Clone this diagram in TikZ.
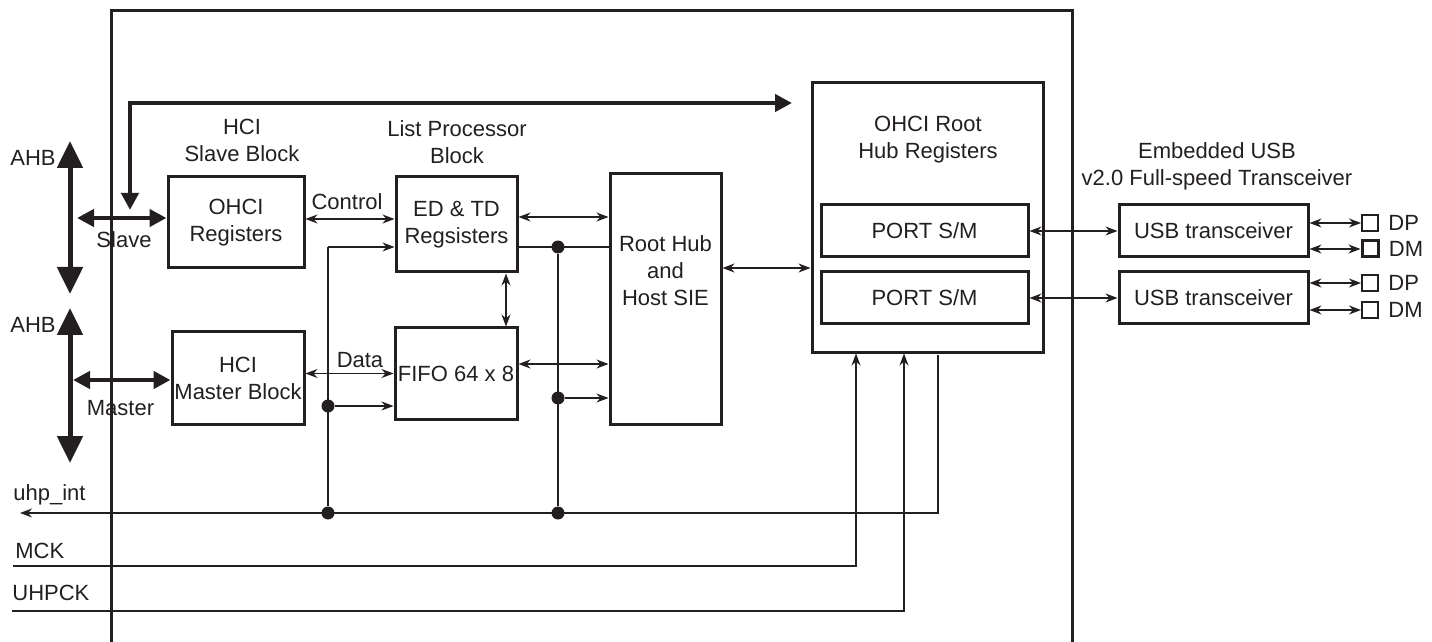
\documentclass[tikz,border=0pt]{standalone}
\usepackage{fontspec}
\setmainfont{Liberation Sans}
\usetikzlibrary{arrows.meta}

\definecolor{ink}{HTML}{231F20}

\begin{document}
\begin{tikzpicture}[
	x=0.5pt, y=-0.5pt,
	font=\fontsize{11pt}{13.5pt}\selectfont,
	every node/.style = {text=ink},
	b/.style = {rectangle, draw=ink, line width=1.5pt, align=center, inner sep=0pt},
	p/.style = {rectangle, draw=ink, line width=1pt, minimum size=8pt, inner sep=0pt},
	l/.style = {align=center, inner sep=0pt},
	d/.style = {circle, fill=ink, minimum size=6.5pt, inner sep=0pt},
	w/.style = {draw=ink, line width=0.7pt},
	r/.style = {w, {Stealth[length=6pt,width=4.5pt]}-{Stealth[length=6pt,width=4.5pt]}},
	s/.style = {w, -{Stealth[length=6pt,width=4.5pt]}},
	bus/.style = {draw=ink, line width=2.5pt, {Triangle[length=13.5pt,width=12.5pt]}-{Triangle[length=13.5pt,width=12.5pt]}},
	lnk/.style = {draw=ink, line width=2.2pt, {Triangle[length=8.5pt,width=8.5pt]}-{Triangle[length=8.5pt,width=8.5pt]}}
	]
	
	\useasboundingbox (0, 0) rectangle (1432, 642);
	
	% ===== ===== ===== ===== =====
	
	% Frame
	\draw[draw=ink, line width=1.5pt] (111, 642) -- (111, 11) -- (1072, 11) -- (1072, 642);
	
	% Nodes
	\node[b, minimum width=68pt, minimum height=45.5pt]	(ohci)	at	(236, 222.5)	{OHCI\\Registers};
	\node[b, minimum width=66pt, minimum height=46pt]	(hcim)	at	(238, 378)	{HCI\\Master Block};
	\node[b, minimum width=60.5pt, minimum height=47.5pt]	(edtd)	at	(456.5, 224.5)	{ED \& TD\\Regsisters};
	\node[b, minimum width=61pt, minimum height=45.5pt]	(fifo)	at	(456, 373.5)	{FIFO 64 x 8};
	\node[b, minimum width=55.5pt, minimum height=125pt]	(rh)	at	(665.5, 299)	{};
	\node[l]	(rhtxt)	at	(665.5, 271)	{Root Hub\\and\\Host SIE};
	
	\node[b, minimum width=115.5pt, minimum height=134.5pt]	(hub)	at	(927.5, 217.5)	{};
	\node[l]	(hubtxt)	at	(928, 140)	{OHCI Root\\Hub Registers};
	\node[b, minimum width=103.5pt, minimum height=26pt]	(port1)	at	(924.5, 231)	{PORT S/M};
	\node[b, minimum width=103.5pt, minimum height=26pt]	(port2)	at	(924.5, 298)	{PORT S/M};
	
	\node[b, minimum width=94.5pt, minimum height=26pt]	(usb1)	at	(1213.5, 231)	{USB transceiver};
	\node[b, minimum width=94.5pt, minimum height=26pt]	(usb2)	at	(1213.5, 298)	{USB transceiver};
	\node[p, label={[l, label distance=4.5pt]right:DP}]	(dp1)	at	(1370, 223)	{};
	\node[p, line width=1.5pt, label={[l, label distance=4.5pt]right:DM}]	(dm1)	at	(1370, 249)	{};
	\node[p, label={[l, label distance=4.5pt]right:DP}]	(dp2)	at	(1370, 283)	{};
	\node[p, label={[l, label distance=4.5pt]right:DM}]	(dm2)	at	(1370, 310)	{};
	
	% Labels
	\node[l]	(slvhd)	at	(242, 140)	{HCI\\Slave Block};
	\node[l]	(lphd)	at	(457, 142)	{List Processor\\Block};
	\node[l]	(usbhd)	at	(1217, 166)	{Embedded USB\\v2.0 Full-speed Transceiver};
	\node[l]	(ahb1)	at	(33, 158)	{AHB};
	\node[l]	(ahb2)	at	(33, 325)	{AHB};
	\node[l]	(slv)	at	(124, 240)	{Slave};
	\node[l]	(mst)	at	(120.5, 408)	{Master};
	\node[l]	(ctl)	at	(347, 202)	{Control};
	\node[l]	(dat)	at	(360, 360)	{Data};
	\node[l, anchor=west]	(int)	at	(13, 495)	{uhp\_int};
	\node[l, anchor=west]	(mck)	at	(15, 551)	{MCK};
	\node[l, anchor=west]	(uck)	at	(12, 593)	{UHPCK};
	
	% Points
	\coordinate	(a1t)	at	(70, 141);
	\coordinate	(a1b)	at	(70, 294);
	\coordinate	(a2t)	at	(70, 308);
	\coordinate	(a2b)	at	(70, 463);
	\coordinate	(slvL)	at	(77, 218);
	\coordinate	(mstL)	at	(73, 380);
	\coordinate	(tap)	at	(130, 210);
	\coordinate	(busR)	at	(792, 103);
	\coordinate	(c1)	at	(328, 247);
	\coordinate	(i1)	at	(938, 355);
	\coordinate	(i0)	at	(20, 513);
	\coordinate	(m0)	at	(13, 566);
	\coordinate	(u0)	at	(12, 611);
	
	\node[d]	(d1)	at	(328, 406)	{};
	\node[d]	(d2)	at	(328, 513)	{};
	\node[d]	(d3)	at	(558, 247)	{};
	\node[d]	(d4)	at	(558, 398)	{};
	\node[d]	(d5)	at	(558, 513)	{};
	
	
	
	% ===== ===== ===== ===== =====
	
	% Buses
	\draw[bus]	(a1t)	--	(a1b);
	\draw[bus]	(a2t)	--	(a2b);
	\draw[lnk]	(slvL)	--	(slvL -| ohci.west);
	\draw[lnk]	(mstL)	--	(mstL -| hcim.west);
	\draw[lnk]	(tap)	|-	(busR);
	
	% Lines
	\draw[r]	([yshift=1.75pt]ohci.east)	--	([yshift=1.75pt]ohci.east -| edtd.west);
	\draw[r]	(fifo.west -| hcim.east)	--	(fifo.west);
	\draw[s]	(c1)	--	(c1 -| edtd.west);
	\draw[w]	(c1)	--	(d2);
	\draw[s]	(d1)	--	(d1 -| fifo.west);
	
	\draw[r]	([xshift=24.75pt]edtd.south)	--	([xshift=24.75pt]edtd.south |- fifo.north);
	\draw[r]	([yshift=3.75pt]edtd.east)	--	([yshift=3.75pt]edtd.east -| rh.west);
	\draw[r]	([yshift=4.75pt]fifo.east)	--	([yshift=4.75pt]fifo.east -| rh.west);
	\draw[w]	(d3 -| edtd.east)	--	(d3 -| rh.west);
	\draw[w]	(d3)	--	(d5);
	\draw[s]	(d4)	--	(d4 -| rh.west);
	
	\draw[r]	([yshift=15.5pt]rh.east)	--	([yshift=15.5pt]rh.east -| hub.west);
	\draw[r]	(port1.east)	--	(usb1.west);
	\draw[r]	(port2.east)	--	(usb2.west);
	
	\draw[r]	(dp1.west -| usb1.east)	--	(dp1.west);
	\draw[r]	(dm1.west -| usb1.east)	--	(dm1.west);
	\draw[r]	(dp2.west -| usb2.east)	--	(dp2.west);
	\draw[r]	(dm2.west -| usb2.east)	--	(dm2.west);
	
	% Signals
	\draw[s]	(i1)	|-	(i0);
	\draw[s]	(m0)	-|	([xshift=-35.75pt]hub.south);
	\draw[s]	(u0)	-|	([xshift=-11.75pt]hub.south);
	
\end{tikzpicture}
\end{document}
